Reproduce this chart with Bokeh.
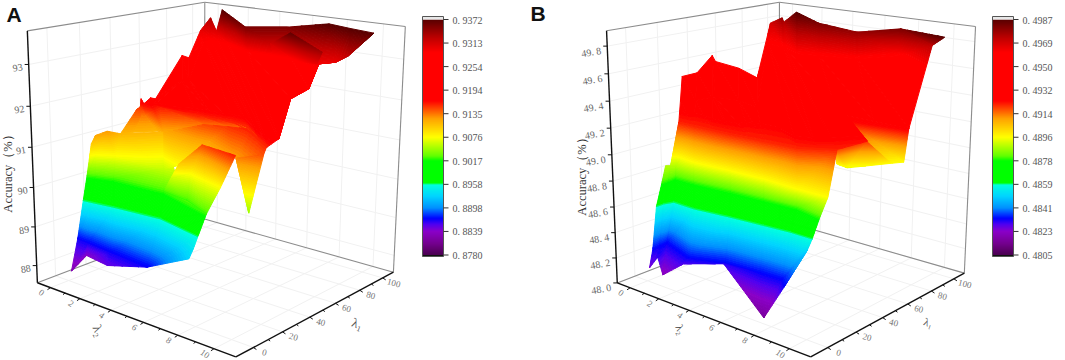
import numpy as np
from bokeh.plotting import figure
from bokeh.models import Range1d
from bokeh.embed import file_html
from bokeh.resources import INLINE
from bokeh.core.properties import value

# ---------- tick labels ----------
LAM1_TICKS=[0,20,40,60,80,100];LAM1_MINOR=[10,30,50,70,90]
LAM2_TICKS=[0,2,4,6,8,10];LAM2_MINOR=[1,3,5,7,9]
A_ACC_TICKS=[88,89,90,91,92,93];A_ACC_LABELS=['88','89','90','91','92','93']
B_ACC_TICKS=[48.2,48.4,48.6,48.8,49.0,49.2,49.4,49.6,49.8];B_ACC_LABELS=['48. 2','48. 4','48. 6','48. 8','49. 0','49. 2','49. 4','49. 6','49. 8']
A_BAR=['0. 8780','0. 8839','0. 8898','0. 8958','0. 9017','0. 9076','0. 9135','0. 9194','0. 9254','0. 9313','0. 9372']
B_BAR=['0. 4805','0. 4823','0. 4841','0. 4859','0. 4878','0. 4896','0. 4914','0. 4932','0. 4950','0. 4969','0. 4987']

# ---------- surface values: lambda1, lambda2, and accuracy as its level on the colour scale ----------
A_tail_l1=[[19.8,23.3],[3.7,3.7]]
A_tail_l2=[[8.51,9.76],[10.54,10.54]]
A_tail_lv=[[.6,.62],[.45,.45]]
A_back_l1=[[45.5,48.4,46.4,46.6,47.3,47.3,85.1,82.6,108.5,117.1,107.1,101.8,83.2,96.3,100.1,95.3,91.4,91.4],
[45.5,47.4,46.6,44.2,45.1,46.2,63.2,65.3,96.3,102.4,102.3,100.4,88.7,88.5,79.0,82.4,79.6,92.7],
[45.5,44.2,45.7,46.7,43.3,49.2,49.0,49.1,50.3,49.4,37.2,29.0,26.3,61.4,62.5,79.0,82.4,79.6],
[26.2,29.6,32.5,35.6,41.1,38.5,51.7,55.9,58.6,42.9,26.2,25.9,26.3,61.4,62.5,79.0,82.4,79.6]]
A_back_l2=[[0.22,0.21,0.46,0.62,1.00,1.33,-0.33,0.35,-1.11,-1.15,0.11,0.93,3.94,5.45,7.61,9.13,10.64,10.64],
[0.22,0.31,0.43,0.89,1.20,1.53,1.62,1.87,0.17,0.10,0.56,1.39,3.62,6.26,8.56,9.24,10.12,10.04],
[0.22,0.61,0.58,0.71,1.63,1.47,3.83,4.84,5.94,6.79,8.31,9.49,10.30,8.30,9.20,8.56,9.24,10.12],
[1.03,1.24,1.29,1.65,2.00,2.66,4.01,5.08,6.06,7.87,9.53,9.72,10.30,8.30,9.20,8.56,9.24,10.12]]
A_back_lv=[[.62,.63,.67,.65,.68,.68,.80,.80,.88,.93,.89,1.0,.97,.97,1.0,1.0,1.0,1.0],
[.62,.63,.63,.64,.66,.67,.74,.74,.86,.86,.86,.86,.86,.86,.87,.88,.92,.97],
[.62,.61,.60,.60,.64,.64,.64,.64,.64,.64,.65,.65,.68,.75,.80,.87,.88,.92],
[.56,.56,.56,.56,.56,.57,.60,.60,.60,.62,.63,.64,.68,.75,.80,.87,.88,.92]]
A_fold_l1=[[90.5,73.1,68.3],[88.1,87.6,73.7]]
A_fold_l2=[[4.91,7.36,9.46],[5.30,6.53,8.83]]
A_fold_lv=[[.90,.99,.94],[.85,.85,.88]]
A_body_l1=[[-14.6,-0.6,-7.3,-3.5,-6.2],[1.5,0.9,-0.9,-3.1,-0.7],[7.2,7.7,9.5,11.5,4.9],[7.9,9.3,12.2,13.4,2.1],[7.4,10.3,15.1,22.2,18.3],[10.5,13.3,19.4,26.2,41.8]]
A_body_l2=[[1.83,1.35,3.40,5.49,8.17],[0.55,1.30,2.96,5.46,7.93],[0.39,0.83,2.18,4.92,7.70],[0.62,1.03,1.94,4.96,8.42],[0.89,0.97,1.79,4.16,5.32],[0.68,0.68,0.83,1.03,2.36]]
A_body_lv=[[.08,.10,.12,.15,.25],[.15,.15,.15,.155,.27],[.30,.30,.30,.30,.30],[.41,.41,.41,.41,.41],[.50,.50,.50,.47,.45],[.54,.57,.58,.56,.56]]
A_mid_l1=[[38.5,44.8,45.5,44.7,28.1],[22.2,21.9,33.3,24.1,23.3]]
A_mid_l2=[[2.66,4.60,5.93,7.16,9.56],[4.16,5.10,5.49,8.17,9.76]]
A_mid_lv=[[.57,.62,.63,.64,.64],[.47,.5,.56,.58,.62]]
A_lobe_l1=[[12.3,17.3,7.3],[12.7,15.6,9.3],[13.4,10.2,2.1]]
A_lobe_l2=[[5.97,6.87,9.53],[5.43,6.34,8.58],[4.96,6.63,8.42]]
A_lobe_lv=[[.54,.62,.64],[.47,.5,.5],[.41,.41,.41]]

B_lobe_l1=[[32.1,49.2,53.6,70.8],[52.9,54.1,61.1,70.8]]
B_lobe_l2=[[9.02,9.44,9.82,9.34],[7.44,7.97,8.80,9.34]]
B_lobe_lv=[[.62,.63,.62,.5],[.5,.49,.5,.5]]
B_right_l1=[[61.8,68.3],[70.8,75.7]]
B_right_l2=[[6.76,10.37],[9.34,9.65]]
B_right_lv=[[.68,.66],[.5,.5]]
B_up_l1=[[57.9,65.7,92.5,85.7,84.9,81.2,120.8,111.0,111.6,101.8,98.7,100.8,111.6,88.3],
[32.7,37.6,40.9,42.0,48.0,47.1,95.8,94.0,93.1,84.3,88.0,93.7,115.0,110.6],
[14.7,14.9,14.8,15.1,15.9,16.4,17.7,20.5,26.1,42.2,54.3,54.2,60.8,60.8]]
B_up_l2=[[-3.20,-2.87,-4.34,-3.44,-1.65,-0.01,-2.53,-0.84,-0.77,0.93,2.67,4.96,6.81,10.84],
[-0.77,-0.21,0.61,0.74,1.75,3.02,-0.54,0.72,0.91,2.43,3.54,5.51,6.63,8.76],
[0.94,1.92,3.12,4.25,5.40,6.15,7.98,8.87,9.52,9.95,7.34,9.42,10.87,10.87]]
B_up_lv=[[.72,.73,.76,.75,.74,.72,.9,.95,.93,1.0,.97,.95,.97,1.0],
[.68,.68,.70,.7,.69,.68,.85,.85,.85,.85,.85,.85,.85,.92],
[.64,.64,.64,.64,.64,.64,.64,.64,.64,.65,.70,.70,.68,.68]]
B_body_l1=[[-15.1,-9.5,-13.0,-5.3,4.6,-12.2,-0.2,16.7],[-6.7,-1.5,3.9,-3.2,3.4,4.9,5.3,16.7],[2.8,7.9,12.8,12.1,14.7,16.3,17.5,17.2],[3.1,7.8,12.8,12.9,14.9,15.9,16.7,12.9],[8.9,10.5,12.2,11.3,12.7,13.1,11.6,11.3],[12.2,12.2,14.7,14.9,15.1,16.4,17.7,26.1]]
B_body_l2=[[1.83,1.80,2.49,3.10,4.70,8.63,8.74,8.65],[1.18,1.10,1.04,3.22,4.93,6.94,8.17,8.65],[0.49,0.47,0.65,2.08,4.21,6.14,7.62,8.89],[0.90,0.87,0.81,2.03,4.22,6.19,8.06,9.65],[0.55,0.73,0.93,2.23,4.44,6.44,8.48,10.20],[0.93,0.93,0.94,1.92,4.25,6.15,7.98,9.52]]
B_body_lv=[[.11,.14,.09,.13,.14,.06,.15,.25],[.155,.155,.155,.155,.155,.155,.155,.25],[.30,.30,.30,.30,.30,.30,.30,.30],[.41,.41,.41,.41,.41,.41,.41,.41],[.46,.46,.46,.50,.5,.5,.5,.50],[.46,.46,.64,.64,.64,.64,.64,.64]]

# ---------- colour scale ----------
STOPS=[(0,'#4a0050'),(.05,'#75008f'),(.10,'#8a00c8'),(.13,'#5000f0'),(.155,'#0000ff'),(.2,'#0090ff'),(.25,'#00d4ff'),(.298,'#00ffe0'),(.306,'#00ff00'),(.40,'#00ff00'),(.42,'#60ff00'),(.50,'#ffff00'),(.58,'#ffa000'),(.64,'#ff2000'),(.655,'#ff0000'),(.86,'#ff0000'),(.92,'#c00000'),(1,'#580000')]
sf=[s[0] for s in STOPS]
sc=np.array([[int(s[1][i:i+2],16) for i in (1,3,5)] for s in STOPS],float)
def cmap(f):
    return '#%02x%02x%02x'%tuple(int(round(np.interp(f,sf,sc[:,k]))) for k in range(3))
LEVELS=sorted(set([round(x,4) for x in list(np.arange(0,.66,.006))+list(np.arange(.86,1.0001,.005))]+[0,.66,.86,1.0]))

# ---------- 3D projection from box corners on the page ----------
def fit(img):
    C=[(0,0,0),(0,1,0),(1,1,0),(1,0,0),(0,0,1),(1,0,1),(1,1,1)]
    A=[];b=[]
    for (u,v,w),(x,y) in zip(C,img):
        A.append([u,v,w,1,0,0,0,0,-x*u,-x*v,-x*w]);b.append(x)
        A.append([0,0,0,0,u,v,w,1,-y*u,-y*v,-y*w]);b.append(y)
    s=np.linalg.lstsq(np.array(A,float),np.array(b,float),rcond=None)[0]
    return np.array([s[:4],s[4:8],[s[8],s[9],s[10],1]])
class Panel:
    def __init__(self,img,zr,cb):
        self.M=fit(img);self.zr=zr;self.cb=cb;self.l1r=(-11.5,109.7);self.l2r=(-.92,11.16)
def proj(P,l1,l2,z):
    u=(l1-P.l1r[0])/(P.l1r[1]-P.l1r[0]);v=(l2-P.l2r[0])/(P.l2r[1]-P.l2r[0]);w=(z-P.zr[0])/(P.zr[1]-P.zr[0])
    q=P.M@np.array([u,v,w,1.0])
    return q[0]/q[2],q[1]/q[2]
PA=Panel([(37,283),(235,356),(393,272),(204,218),(27,30),(204,2),(405,26)],(87.55,93.79),(87.80,93.72))
PB=Panel([(617,283),(810,356),(964,273),(779,219),(606,30),(779,2),(975,26)],(48.0,49.91),(48.05,49.87))

p=figure(width=1065,height=360,x_range=Range1d(0,1065),y_range=Range1d(360,0),toolbar_location=None,output_backend="svg",
         x_axis_type=None,y_axis_type=None,min_border=0,outline_line_color=None)
p.xgrid.visible=False;p.ygrid.visible=False
SERIF=value("Liberation Serif")
xs=[];ys=[];cols=[]
def clip(poly,lo,hi):
    def cut(pts,keep,val):
        out=[];n=len(pts)
        for i in range(n):
            a=pts[i];b=pts[(i+1)%n]
            ka=keep(a[2]);kb=keep(b[2])
            if ka: out.append(a)
            if ka!=kb:
                t=(val-a[2])/(b[2]-a[2])
                out.append(tuple(a[k]+t*(b[k]-a[k]) for k in range(3)))
        return out
    r=cut(poly,lambda z:z>=lo,lo)
    if len(r)>=3: r=cut(r,lambda z:z<=hi,hi)
    return r
def tri(P,t):
    zs=[q[2] for q in t]
    zl,zh=min(zs),max(zs)
    a,b=P.cb
    for i in range(len(LEVELS)-1):
        lo=a+LEVELS[i]*(b-a);hi=a+LEVELS[i+1]*(b-a)
        if hi<zl or lo>zh: continue
        r=clip(list(t),lo,hi)
        if len(r)<3: continue
        pts=[proj(P,*q) for q in r]
        xs.append([q[0] for q in pts]);ys.append([q[1] for q in pts]);cols.append(cmap((LEVELS[i]+LEVELS[i+1])/2))
def sheet(P,l1,l2,lv):
    a,b=P.cb
    g=[[(x,y,a+f*(b-a)) for x,y,f in zip(r1,r2,r3)] for r1,r2,r3 in zip(l1,l2,lv)]
    for r in range(len(g)-1):
        for c in range(len(g[0])-1):
            q,w,d,e=g[r][c],g[r][c+1],g[r+1][c],g[r+1][c+1]
            tri(P,[q,w,e]);tri(P,[q,e,d])

def frame(P,zt,zlab,zoff,zsize,title_xy,l2xy,l1xy,lsize):
    a,b=P.l1r;c,d=P.l2r;e,f=P.zr
    gx=[];gy=[]
    def seg(q1,q2):
        A=proj(P,*q1);B=proj(P,*q2);gx.append([A[0],B[0]]);gy.append([A[1],B[1]])
    for v in LAM1_TICKS:
        seg((v,c,e),(v,d,e));seg((v,c,e),(v,c,f))
    for v in LAM2_TICKS:
        seg((a,v,e),(b,v,e));seg((b,v,e),(b,v,f))
    for v in zt:
        seg((a,c,v),(b,c,v));seg((b,c,v),(b,d,v))
    p.multi_line(gx,gy,line_color='#f1f1f1',line_width=1)
    gx=[];gy=[]
    seg((a,c,e),(b,c,e));seg((b,c,e),(b,d,e));seg((b,c,e),(b,c,f));seg((a,c,f),(b,c,f));seg((b,c,f),(b,d,f));seg((b,d,e),(b,d,f))
    p.multi_line(gx,gy,line_color='#8c8c8c',line_width=1.1)
    gx=[];gy=[]
    seg((a,c,e),(a,c,f));seg((a,c,e),(a,d,e));seg((a,d,e),(b,d,e))
    p.multi_line(gx,gy,line_color='#111111',line_width=1.4)
    gx=[];gy=[]
    def tick(q,dx,dy):
        A=proj(P,*q);gx.append([A[0],A[0]+dx]);gy.append([A[1],A[1]+dy]);return A
    tx=[];ty=[];tt=[]
    for v in LAM2_TICKS:
        A=tick((a,v,e),-3,2);tx.append(A[0]-9);ty.append(A[1]+5);tt.append('%g'%v)
    for v in LAM2_MINOR: tick((a,v,e),-2,1.5)
    sx=[];sy=[];st=[]
    for v in LAM1_TICKS:
        A=tick((v,d,e),3,2);sx.append(A[0]+11);sy.append(A[1]+5);st.append('%g'%v)
    for v in LAM1_MINOR: tick((v,d,e),2,1.5)
    zx=[];zy=[];zs=[]
    for v,l in zip(zt,zlab):
        A=tick((a,c,v),-4,0);zx.append(A[0]+zoff[0]);zy.append(A[1]+zoff[1]);zs.append(l)
    p.multi_line(gx,gy,line_color='#111111',line_width=1)
    kw=dict(text_font=SERIF,text_align="center",text_baseline="middle")
    p.text(tx,ty,tt,text_font_size="9px",text_color="#777777",angle=np.radians(-35),**kw)
    p.text(sx,sy,st,text_font_size="9px",text_color="#777777",angle=np.radians(-15),**kw)
    p.text(zx,zy,zs,text_font_size=zsize,text_color="#666666",angle=np.radians(10),**kw)
    p.text([title_xy[0]],[title_xy[1]],["Accuracy（%）"],text_font_size="12.5px",text_color="#333333",angle=np.pi/2,**kw)
    p.text([l2xy[0]],[l2xy[1]],["λ₂"],text_font_size=lsize,text_color="#555555",angle=np.radians(-65),**kw)
    p.text([l1xy[0]],[l1xy[1]],["λ₁"],text_font_size=lsize,text_color="#555555",angle=np.radians(-20),**kw)

def cbar(x0,labs):
    rows=np.arange(19,255)
    fr=(254.5-(rows+.5))/235.5
    p.quad(left=x0,right=x0+21,top=rows.tolist(),bottom=np.minimum(rows+2.5,254.5).tolist(),fill_color=[cmap(max(0,min(1,v))) for v in fr],line_color=None)
    p.quad(left=x0,right=x0+21,top=16,bottom=19,fill_color='#e8e8e8',line_color=None)
    p.quad(left=x0,right=x0+21,top=254.5,bottom=256,fill_color='#111111',line_color=None)
    p.quad(left=x0,right=x0+21,top=16,bottom=256,fill_color=None,line_color='#555555',line_width=1)
    y=[254.5-23.55*i for i in range(11)]
    p.segment(x0+21,y,x0+26,y,line_color='#333333',line_width=1)
    p.text(x0+30,[v+.5 for v in y],labs,text_font=SERIF,text_font_size="10px",text_color="#555555",text_align="left",text_baseline="middle")

frame(PA,A_ACC_TICKS,A_ACC_LABELS,(-11,3),"10px",(7,170),(98,330),(357,323),"13px")
frame(PB,[48.0]+B_ACC_TICKS,['48. 0']+B_ACC_LABELS,(-16,6),"10px",(581,173),(680,329),(928,322),"11px")
for P,a,b,c in [(PA,A_tail_l1,A_tail_l2,A_tail_lv),(PA,A_back_l1,A_back_l2,A_back_lv),(PA,A_fold_l1,A_fold_l2,A_fold_lv),
                (PA,A_body_l1,A_body_l2,A_body_lv),(PA,A_mid_l1,A_mid_l2,A_mid_lv),(PA,A_lobe_l1,A_lobe_l2,A_lobe_lv),
                (PB,B_lobe_l1,B_lobe_l2,B_lobe_lv),(PB,B_right_l1,B_right_l2,B_right_lv),(PB,B_up_l1,B_up_l2,B_up_lv),(PB,B_body_l1,B_body_l2,B_body_lv)]:
    sheet(P,a,b,c)
p.patches(xs,ys,fill_color=cols,line_color=cols,line_width=1)
cbar(422,A_BAR)
cbar(992,B_BAR)
p.text([6,530],[14,13],['A','B'],text_font=value("Liberation Sans"),text_font_size="21px",text_font_style="bold",text_color="#111111",text_align="left",text_baseline="middle")
open("out.html","w").write(file_html(p,INLINE))
